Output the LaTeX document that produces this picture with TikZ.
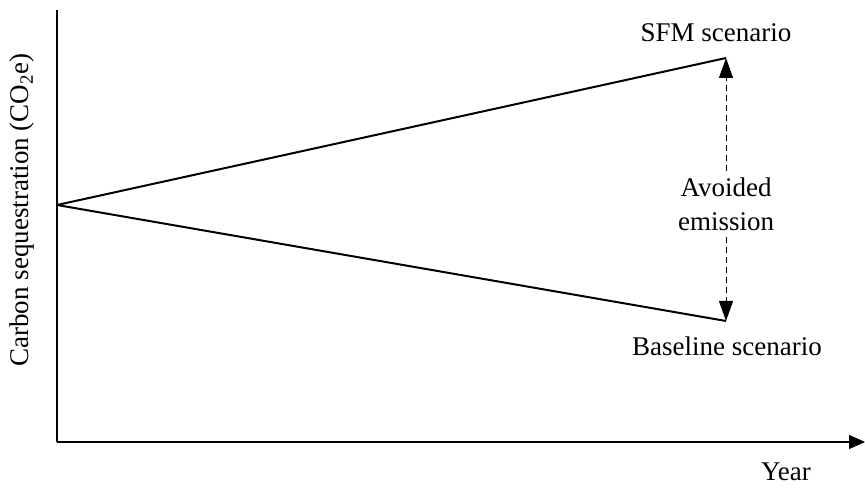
\documentclass[tikz,border=0pt]{standalone}
\usepackage{fontspec}
\setmainfont{Liberation Serif}
\usetikzlibrary{arrows.meta}

\begin{document}
\begin{tikzpicture}[x=0.5pt,y=-0.5pt,font=\fontsize{13.5}{16}\selectfont,
  axis/.style={line width=0.6pt},
  scen/.style={line width=1pt},
  gap/.style={dashed,line width=0.5pt,dash pattern=on 3pt off 2pt,-{Triangle[length=10pt,width=7pt]}}]
			\useasboundingbox (0,0) rectangle (865,490);
			\coordinate (o) at (57,442);
			\coordinate (top) at (57,10);
			\coordinate (xend) at (865,442);
			\coordinate (start) at (57,205);
			\coordinate (sfm) at (726,58);
			\coordinate (base) at (726,321);
			\draw[axis] (top)--(o);
			\draw[axis,-{Triangle[length=8pt,width=7pt]}] (o)--(xend);
			\draw[scen] (start)--(sfm);
			\draw[scen] (start)--(base);
			\node (avoid) at (726,204) [align=center,inner sep=3pt,text depth=0pt] {Avoided\\[1pt]emission};
			\draw[gap] (avoid)--(sfm);
			\draw[gap] (avoid)--(base);
			\node (sfmlab) at (716,33) {SFM scenario};
			\node (baselab) at (727,346) {Baseline scenario};
			\node (xlab) at (786,472) {Year};
			\node (ylab) at (22,210) [rotate=90] {Carbon sequestration (CO\textsubscript{2}e)};
			\end{tikzpicture}
\end{document}
